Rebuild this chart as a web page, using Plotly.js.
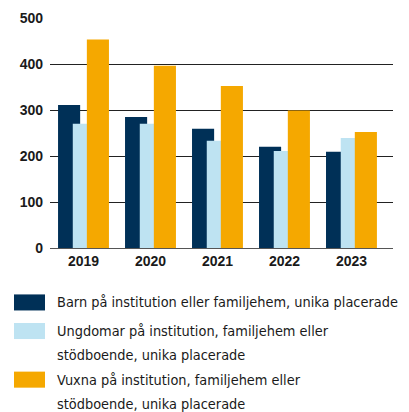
<!DOCTYPE html>
<html>
<head>
<meta charset="utf-8">
<script src="https://cdn.plot.ly/plotly-3.0.1.min.js"></script>
<style>html,body{margin:0;padding:0;background:#fff;}#chart{width:409px;height:412px;}</style>
</head>
<body>
<div id="chart"></div>
<script>
const years = ["2019", "2020", "2021", "2022", "2023"];
const barn = [311, 285, 259, 220, 209];
const ungdomar = [270, 270, 233, 211, 239];
const vuxna = [453, 396, 352, 299, 252];
const seriesNames = [
  "Barn på institution eller familjehem, unika placerade",
  "Ungdomar på institution, familjehem eller|stödboende, unika placerade",
  "Vuxna på institution, familjehem eller|stödboende, unika placerade"
];
const colors = ["#003057", "#bee3f2", "#f5a800"];

const W = 409, H = 412;
const plotL = 50, plotR = 393, plotT = 18.3, plotB = 247.7;
const barW = 0.33;
const offsets = [-0.38, -0.16, 0.05];
const seriesValues = [barn, ungdomar, vuxna];

const traces = seriesValues.map((vals, i) => ({
  type: "bar",
  x: years,
  y: vals,
  name: seriesNames[i].replace("|", " "),
  marker: {color: colors[i], line: {width: 0}},
  width: barW,
  offset: offsets[i],
  hoverinfo: "y"
}));

function py(p) { return (plotB - p) / (plotB - plotT); }
function px(p) { return (p - plotL) / (plotR - plotL); }

const shapes = [];
const annotations = [];
const legendFont = {family: "'DejaVu Sans Condensed', sans-serif", size: 14.4, color: "#1a1a1a"};
const entryLines = [[302], [330.5, 354.5], [379, 403.5]];
seriesNames.forEach((name, i) => {
  const lines = name.split("|");
  const y0 = entryLines[i][0];
  shapes.push({type: "rect", xref: "paper", yref: "paper",
    x0: px(14), x1: px(45), y0: py(y0 - 8), y1: py(y0 + 8),
    fillcolor: colors[i], line: {width: 0}, layer: "above"});
  lines.forEach((ln, j) => {
    annotations.push({xref: "paper", yref: "paper", x: px(55), y: py(entryLines[i][j]),
      xanchor: "left", yanchor: "middle", text: ln, showarrow: false, font: legendFont});
  });
});

const layout = {
  width: W, height: H,
  margin: {l: plotL, r: W - plotR, t: plotT, b: H - plotB, pad: 0},
  paper_bgcolor: "#fff", plot_bgcolor: "#fff",
  barmode: "overlay",
  showlegend: false,
  xaxis: {
    type: "category",
    range: [-0.5, 4.62],
    showgrid: false, zeroline: false, showline: false,
    ticks: "", ticklabelstandoff: 3,
    tickfont: {family: "'Liberation Sans', Arial, sans-serif", size: 14, color: "#1a1a1a", weight: "bold"}
  },
  yaxis: {
    range: [0, 500],
    tickvals: [0, 100, 200, 300, 400, 500],
    showgrid: true, gridcolor: "#222", gridwidth: 1,
    zeroline: true, zerolinecolor: "#555", zerolinewidth: 1,
    showline: false, ticks: "", ticklabelstandoff: 6,
    tickfont: {family: "'Liberation Sans', Arial, sans-serif", size: 14, color: "#1a1a1a", weight: "bold"}
  },
  shapes: shapes,
  annotations: annotations
};

Plotly.newPlot("chart", traces, layout, {displayModeBar: false, staticPlot: true});
</script>
</body>
</html>
